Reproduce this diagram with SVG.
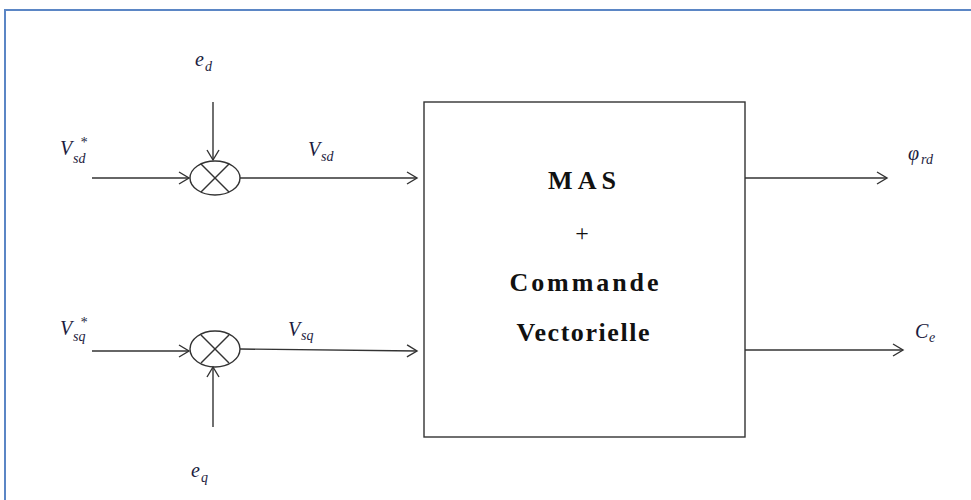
<svg xmlns="http://www.w3.org/2000/svg" width="971" height="500" viewBox="0 0 971 500">
<style>
.ln{stroke:#333;stroke-width:1.4;fill:none}
.lbl{font-family:"Liberation Serif",serif;font-style:italic;fill:#1c1c40}
.m{font-size:20px}
.s{font-size:14px}
.bt{font-family:"Liberation Serif",serif;font-weight:bold;font-size:26px;fill:#111}
</style>
<defs>
<marker id="ah" markerUnits="userSpaceOnUse" markerWidth="14" markerHeight="14" refX="11" refY="6" orient="auto" viewBox="0 0 14 12">
<path d="M1,0 L11,6 L1,12" fill="none" stroke="#333" stroke-width="1.4"/>
</marker>
</defs>
<rect width="971" height="500" fill="#fff"/>
<rect x="5" y="10" width="1000" height="600" fill="none" stroke="#5b86c5" stroke-width="2"/>
<g id="connectors">
<line class="ln" x1="92" y1="178" x2="189" y2="178" marker-end="url(#ah)"/>
<line class="ln" x1="213" y1="102" x2="213" y2="160" marker-end="url(#ah)"/>
<line class="ln" x1="240" y1="178" x2="417" y2="178" marker-end="url(#ah)"/>
<line class="ln" x1="92" y1="351" x2="189" y2="351" marker-end="url(#ah)"/>
<line class="ln" x1="213" y1="427" x2="213" y2="367" marker-end="url(#ah)"/>
<line class="ln" x1="240" y1="349" x2="417" y2="351" marker-end="url(#ah)"/>
<line class="ln" x1="745" y1="178" x2="887" y2="178" marker-end="url(#ah)"/>
<line class="ln" x1="745" y1="350" x2="903" y2="350" marker-end="url(#ah)"/>
</g>
<g id="sum1">
<ellipse class="ln" cx="215" cy="178" rx="25" ry="17"/>
<line class="ln" x1="201" y1="164" x2="229" y2="192"/>
<line class="ln" x1="201" y1="192" x2="229" y2="164"/>
</g>
<g id="sum2">
<ellipse class="ln" cx="215" cy="349" rx="25" ry="18"/>
<line class="ln" x1="201" y1="335" x2="229" y2="363"/>
<line class="ln" x1="201" y1="363" x2="229" y2="335"/>
</g>
<g id="block">
<rect class="ln" x="424" y="102" width="321" height="335"/>
<text class="bt" x="582" y="189" text-anchor="middle" textLength="68" lengthAdjust="spacing">MAS</text>
<text x="582" y="241" text-anchor="middle" font-family="Liberation Serif,serif" font-size="24" fill="#111">+</text>
<text class="bt" x="584" y="291" text-anchor="middle" textLength="149" lengthAdjust="spacing">Commande</text>
<text class="bt" x="583" y="341" text-anchor="middle" textLength="133" lengthAdjust="spacing">Vectorielle</text>
</g>
<g id="labels">
<text class="lbl m" x="195" y="66">e</text><text class="lbl s" x="205" y="71">d</text>
<text class="lbl m" x="60" y="155">V</text><text class="lbl s" x="80" y="147">*</text><text class="lbl s" x="73" y="163">sd</text>
<text class="lbl m" x="308" y="156">V</text><text class="lbl s" x="321" y="161">sd</text>
<text class="lbl m" x="60" y="335">V</text><text class="lbl s" x="80" y="327">*</text><text class="lbl s" x="73" y="341">sq</text>
<text class="lbl m" x="288" y="336">V</text><text class="lbl s" x="301" y="340">sq</text>
<text class="lbl m" x="191" y="477">e</text><text class="lbl s" x="201" y="482">q</text>
<text class="lbl m" x="908" y="160">φ</text><text class="lbl s" x="921" y="164">rd</text>
<text class="lbl m" x="915" y="338">C</text><text class="lbl s" x="929" y="342">e</text>
</g>
</svg>
